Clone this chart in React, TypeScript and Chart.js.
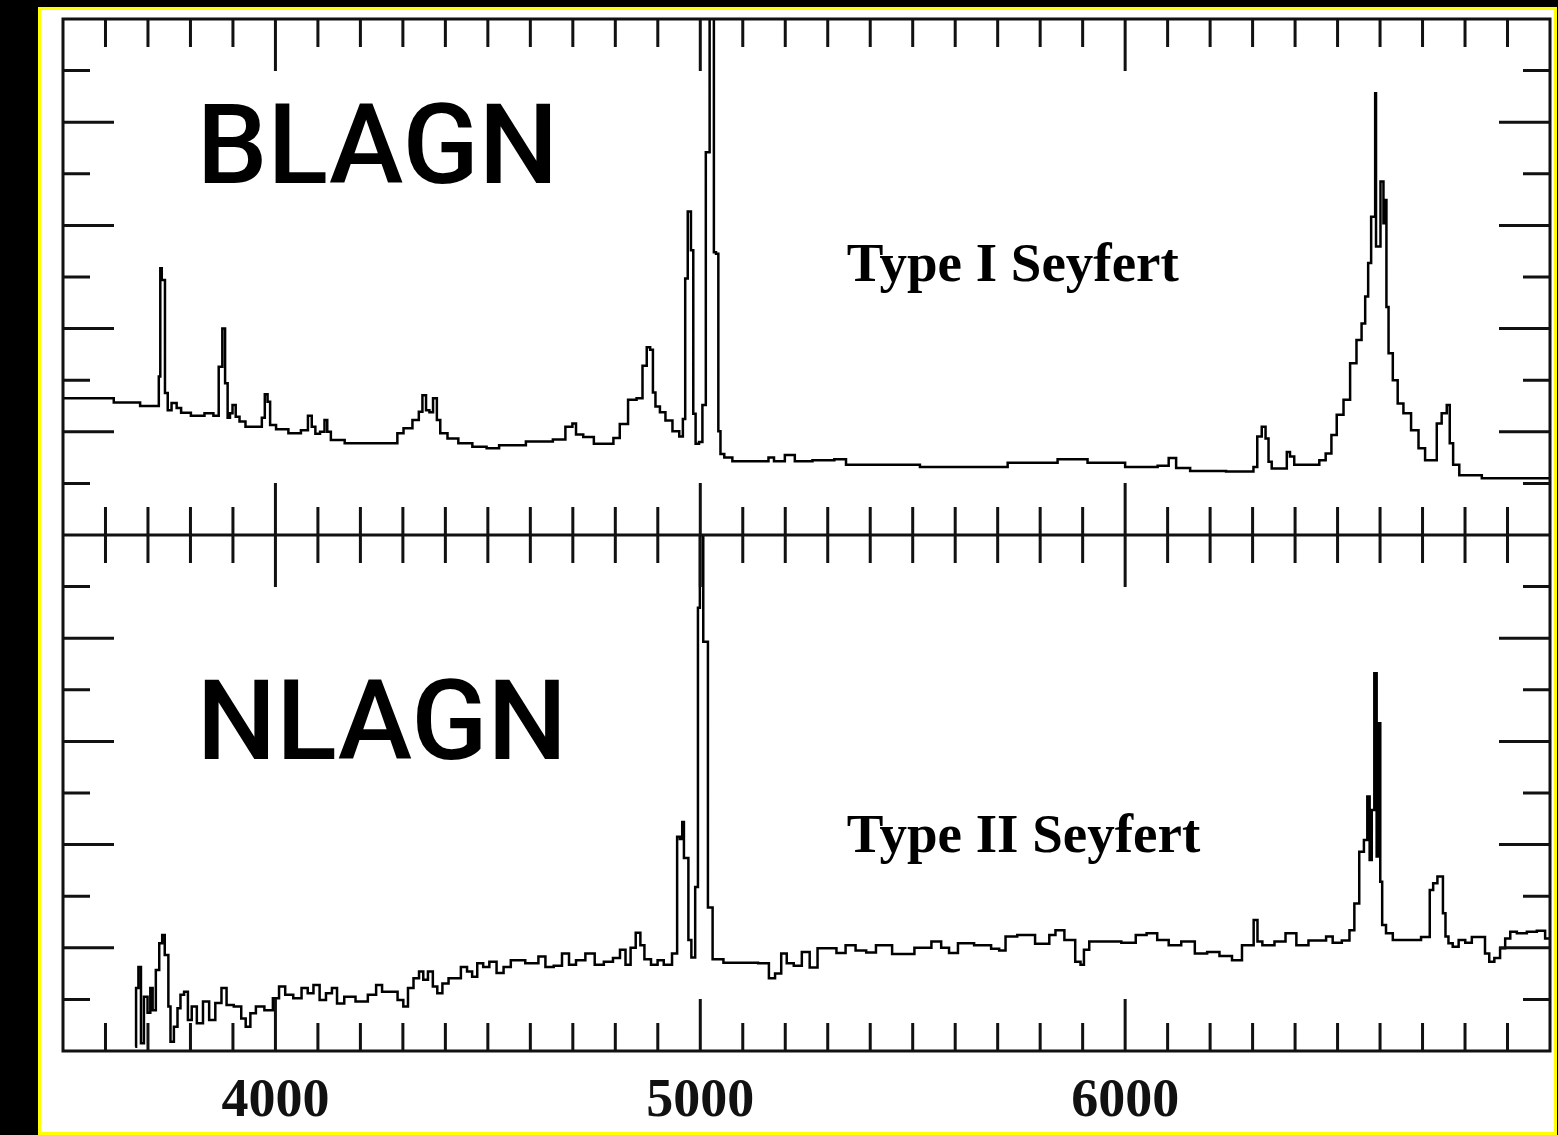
import React, { useEffect, useRef } from 'react';
import { Chart, registerables } from 'chart.js';

Chart.register(...registerables);

// ---------- data (wavelength in Angstrom, flux in panel tick units) ----------
const WAVE_MIN = 3500;
const WAVE_MAX = 7000;
const WAVE_STEP = 100;
const tickLabelValues = [4000, 5000, 6000];
const majorWaveTicks = [4000, 5000, 6000];
const PANEL_MIN = 0;
const PANEL_MAX = 10;

const blagnWave = [
  3500, 3619, 3620, 3681, 3682, 3724, 3727, 3731, 3734, 3737, 3743, 3750, 3761, 3774, 3782,
  3820, 3846, 3862, 3871, 3879, 3884, 3891, 3895, 3903, 3910, 3921, 3938, 3964, 3972, 3978,
  3985, 3990, 4013, 4048, 4072, 4081, 4090, 4098, 4112, 4119, 4125, 4136, 4190, 4283, 4291,
  4312, 4333, 4342, 4350, 4359, 4366, 4376, 4384, 4392, 4418, 4443, 4484, 4510, 4543, 4636,
  4670, 4695, 4703, 4712, 4737, 4762, 4788, 4803, 4818, 4842, 4858, 4870, 4878, 4886, 4891,
  4898, 4912, 4924, 4945, 4956, 4962, 4967, 4974, 4982, 4985, 4993, 5001, 5009, 5017, 5027,
  5031, 5033, 5041, 5044, 5051, 5062, 5089, 5157, 5164, 5183, 5215, 5230, 5298, 5333, 5353,
  5470, 5564, 5706, 5741, 5800, 5882, 5941, 6059, 6094, 6111, 6129, 6177, 6298, 6306, 6316,
  6327, 6334, 6341, 6349, 6377, 6384, 6392, 6404, 6451, 6463, 6481, 6490, 6506, 6522, 6537,
  6552, 6561, 6569, 6575, 6583, 6588, 6589, 6592, 6596, 6606, 6610, 6614, 6616, 6624, 6636,
  6647, 6663, 6683, 6698, 6714, 6730, 6737, 6753, 6761, 6767, 6777, 6796, 6883, 7000,
];
const blagnFlux = [
  2.65, 2.65, 2.57, 2.57, 2.5, 2.5, 3.07, 5.17, 4.94, 4.94, 2.75, 2.42, 2.56, 2.46, 2.37,
  2.31, 2.36, 2.31, 3.26, 4.0, 2.94, 2.27, 2.36, 2.52, 2.29, 2.2, 2.1, 2.1, 2.27, 2.73,
  2.58, 2.13, 2.05, 1.97, 2.03, 2.31, 2.1, 1.96, 2.0, 2.23, 2.0, 1.84, 1.78, 1.78, 1.97,
  2.07, 2.23, 2.39, 2.71, 2.42, 2.38, 2.65, 2.23, 1.97, 1.87, 1.78, 1.71, 1.68, 1.74, 1.81,
  1.85, 2.1, 2.16, 1.95, 1.9, 1.77, 1.77, 1.88, 2.15, 2.62, 2.65, 3.28, 3.64, 3.59, 2.76,
  2.49, 2.38, 2.22, 2.01, 1.91, 2.25, 4.97, 6.27, 5.52, 2.35, 1.77, 1.8, 2.52, 7.42, 12,
  12, 5.48, 5.45, 2.01, 1.57, 1.5, 1.43, 1.43, 1.5, 1.43, 1.55, 1.43, 1.45, 1.47, 1.36,
  1.36, 1.32, 1.32, 1.4, 1.4, 1.47, 1.4, 1.32, 1.34, 1.49, 1.3, 1.24, 1.23, 1.32, 1.91,
  2.1, 1.87, 1.42, 1.29, 1.29, 1.61, 1.52, 1.36, 1.36, 1.45, 1.58, 1.94, 2.33, 2.62, 3.33,
  3.78, 4.1, 4.62, 5.27, 6.17, 6.17, 8.56, 5.59, 5.59, 6.85, 6.04, 6.49, 4.42, 3.52, 3.0,
  2.55, 2.36, 2.03, 1.68, 1.45, 1.45, 2.16, 2.36, 2.52, 1.78, 1.36, 1.16, 1.1, 1.1,
];

const nlagnWave = [
  3670, 3674, 3681, 3686, 3695, 3703, 3708, 3714, 3723, 3730, 3737, 3742, 3746, 3750, 3756,
  3766, 3773, 3780, 3790, 3798, 3808, 3822, 3837, 3851, 3866, 3880, 3890, 3914, 3925, 3935,
  3947, 3961, 3987, 4001, 4016, 4030, 4054, 4069, 4083, 4096, 4112, 4126, 4140, 4150, 4174,
  4203, 4232, 4242, 4260, 4280, 4295, 4307, 4317, 4333, 4343, 4353, 4365, 4376, 4386, 4400,
  4415, 4429, 4444, 4458, 4468, 4482, 4496, 4511, 4530, 4544, 4564, 4612, 4626, 4645, 4665,
  4684, 4698, 4717, 4742, 4761, 4785, 4804, 4818, 4830, 4842, 4854, 4864, 4873, 4895, 4904,
  4924, 4943, 4948, 4956, 4959, 4964, 4970, 4974, 4984, 4992, 4997, 5001, 5005, 5009, 5017,
  5019, 5027, 5031, 5078, 5117, 5155, 5168, 5184, 5197, 5210, 5230, 5248, 5267, 5285, 5310,
  5331, 5353, 5378, 5403, 5424, 5479, 5529, 5559, 5575, 5596, 5617, 5672, 5697, 5710, 5727,
  5765, 5811, 5832, 5840, 5874, 5891, 5899, 5907, 5924, 5974, 6008, 6042, 6059, 6092, 6113,
  6151, 6177, 6209, 6235, 6268, 6282, 6298, 6307, 6316, 6330, 6373, 6382, 6424, 6439, 6467,
  6479, 6498, 6522, 6534, 6545, 6557, 6567, 6573, 6578, 6583, 6590, 6594, 6599, 6602, 6608,
  6620, 6640, 6679, 6714, 6720, 6730, 6740, 6745, 6751, 6757, 6765, 6777, 6793, 6808, 6824,
  6843, 6851, 6863, 6875, 6890, 6899, 6914, 6930, 6961, 6977, 7000,
];
const nlagnFlux = [
  0.08, 1.22, 1.63, 0.15, 1.05, 0.74, 1.22, 0.79, 1.57, 2.09, 2.25, 1.86, 1.86, 0.86, 0.18,
  0.47, 0.83, 1.09, 1.15, 0.6, 0.86, 0.54, 0.96, 0.6, 0.93, 1.22, 0.89, 0.86, 0.63, 0.47,
  0.73, 0.86, 0.79, 1.02, 1.25, 1.09, 1.02, 1.22, 1.12, 1.28, 0.99, 1.12, 1.22, 0.92, 1.05,
  0.96, 1.09, 1.28, 1.15, 1.15, 0.99, 0.86, 1.22, 1.41, 1.54, 1.38, 1.54, 1.25, 1.12, 1.31,
  1.41, 1.41, 1.63, 1.54, 1.44, 1.7, 1.63, 1.73, 1.51, 1.63, 1.76, 1.7, 1.83, 1.63, 1.65,
  1.89, 1.67, 1.76, 1.89, 1.67, 1.73, 1.8, 1.96, 1.67, 2.0, 2.29, 2.05, 1.78, 1.67, 1.76,
  1.67, 1.89, 4.15, 4.11, 4.44, 3.74, 3.74, 2.15, 1.81, 3.18, 8.59, 10, 10, 7.93, 7.93,
  2.78, 2.78, 1.78, 1.71, 1.71, 1.7, 1.41, 1.5, 1.89, 1.7, 1.65, 1.92, 1.62, 1.99, 1.99,
  1.9, 2.05, 1.95, 1.91, 2.05, 1.88, 2.0, 2.12, 2.0, 1.9, 2.09, 2.05, 1.98, 1.95, 2.22,
  2.25, 2.08, 2.25, 2.34, 2.15, 1.73, 1.67, 1.96, 2.12, 2.12, 2.1, 2.25, 2.28, 2.15, 2.05,
  2.12, 1.89, 1.92, 1.84, 1.76, 2.05, 2.05, 2.54, 2.12, 2.05, 2.12, 2.28, 2.05, 2.14, 2.14,
  2.22, 2.1, 2.14, 2.34, 2.86, 3.86, 4.09, 4.93, 3.7, 4.67, 7.32, 3.77, 6.35, 3.28, 2.44,
  2.28, 2.15, 2.15, 2.21, 3.12, 3.25, 3.38, 3.38, 2.67, 2.22, 2.09, 2.02, 2.15, 2.1, 2.21,
  2.21, 1.89, 1.73, 1.8, 1.99, 2.18, 2.31, 2.28, 2.31, 2.33, 2.18,
];

const panelNames = ['BLAGN', 'NLAGN'];
const seyfertNames = ['Type I Seyfert', 'Type II Seyfert'];

// annotation anchors (wavelength, panel units of the text baseline)
const panelNameAnchors = [
  { wave: 3815, level: 6.82 },
  { wave: 3815, level: 5.66 },
];
const seyfertAnchors = [
  { wave: 5345, level: 4.92 },
  { wave: 5345, level: 3.86 },
];

const toPoints = (w: number[], f: number[]) => w.map((x, i) => ({ x, y: f[i] }));

const frameTicksPlugin = {
  id: 'frameTicks',
  afterDatasetsDraw(chart: any) {
    const { ctx, chartArea } = chart;
    const x = chart.scales.x;
    const panels = [chart.scales.yTop, chart.scales.yBot];
    ctx.save();
    ctx.strokeStyle = '#111';
    ctx.lineWidth = 3;
    ctx.lineCap = 'butt';
    ctx.beginPath();
    panels.forEach((p: any) => {
      ctx.rect(chartArea.left, p.top, chartArea.right - chartArea.left, p.bottom - p.top);
      x.ticks.forEach((t: any) => {
        const v = Math.round(t.value);
        if (v <= x.min || v >= x.max) return;
        const px = x.getPixelForValue(v);
        const len = majorWaveTicks.includes(v) ? 52 : 28;
        ctx.moveTo(px, p.top);
        ctx.lineTo(px, p.top + len);
        ctx.moveTo(px, p.bottom);
        ctx.lineTo(px, p.bottom - len);
      });
      p.ticks.forEach((t: any) => {
        const v = Math.round(t.value);
        if (v <= p.min || v >= p.max) return;
        const py = p.getPixelForValue(v);
        const len = v % 2 === 0 ? 51 : 27;
        ctx.moveTo(chartArea.left, py);
        ctx.lineTo(chartArea.left + len, py);
        ctx.moveTo(chartArea.right, py);
        ctx.lineTo(chartArea.right - len, py);
      });
    });
    ctx.stroke();
    ctx.restore();
  },
};

const textPlugin = {
  id: 'panelText',
  afterDatasetsDraw(chart: any) {
    const { ctx } = chart;
    const x = chart.scales.x;
    const panels = [chart.scales.yTop, chart.scales.yBot];
    ctx.save();
    ctx.fillStyle = '#000';
    ctx.textAlign = 'left';
    ctx.textBaseline = 'alphabetic';
    panels.forEach((p: any, i: number) => {
      ctx.font = '500 112px Roboto, "Liberation Sans", sans-serif';
      ctx.fillText(panelNames[i], x.getPixelForValue(panelNameAnchors[i].wave), p.getPixelForValue(panelNameAnchors[i].level));
      ctx.font = 'bold 55px "Liberation Serif", "DejaVu Serif", serif';
      ctx.fillText(seyfertNames[i], x.getPixelForValue(seyfertAnchors[i].wave), p.getPixelForValue(seyfertAnchors[i].level));
    });
    ctx.restore();
  },
};

// left boxes are laid out in reverse weight order: higher weight is placed on top of the stack
const hiddenY = (weight: number) => ({
  type: 'linear' as const,
  position: 'left' as const,
  stack: 'panels',
  stackWeight: 1,
  weight,
  min: PANEL_MIN,
  max: PANEL_MAX,
  ticks: { display: false, stepSize: 1 },
  grid: { display: false, drawTicks: false },
  border: { display: false },
});

const spectrumStyle = {
  borderColor: '#000',
  borderWidth: 2.5,
  pointRadius: 0,
  tension: 0,
  fill: false,
  stepped: 'middle' as const,
};

export default function App() {
  const canvasRef = useRef<HTMLCanvasElement | null>(null);

  useEffect(() => {
    const canvas = canvasRef.current;
    if (!canvas) return;
    const chart = new Chart(canvas, {
      type: 'line',
      data: {
        datasets: [
          {
            label: 'BLAGN',
            data: toPoints(blagnWave, blagnFlux),
            xAxisID: 'x',
            yAxisID: 'yTop',
            ...spectrumStyle,
          },
          {
            label: 'NLAGN',
            data: toPoints(nlagnWave, nlagnFlux),
            xAxisID: 'x',
            yAxisID: 'yBot',
            ...spectrumStyle,
          },
        ],
      },
      options: {
        responsive: false,
        animation: false,
        devicePixelRatio: 1,
        events: [],
        layout: { padding: { left: 63, right: 8, top: 19, bottom: 0 } },
        plugins: { legend: { display: false }, tooltip: { enabled: false } },
        scales: {
          x: {
            type: 'linear',
            position: 'bottom',
            min: WAVE_MIN,
            max: WAVE_MAX,
            grid: { display: false, drawTicks: false },
            border: { display: false },
            afterFit: (s: any) => {
              s.height = 84;
            },
            ticks: {
              stepSize: WAVE_STEP,
              autoSkip: false,
              maxRotation: 0,
              minRotation: 0,
              padding: 0,
              color: '#111',
              font: { family: '"Liberation Serif", "DejaVu Serif", serif', size: 54, weight: 'bold', lineHeight: 1.9 },
              callback: (v: any) => (tickLabelValues.includes(Math.round(Number(v))) ? String(Math.round(Number(v))) : ''),
            },
          },
          yTop: hiddenY(1),
          yBot: hiddenY(0),
        },
      } as any,
      plugins: [frameTicksPlugin, textPlugin],
    });
    return () => chart.destroy();
  }, []);

  return (
    <div style={{ position: 'fixed', left: 0, top: 0, width: 1558, height: 1135, background: '#000', overflow: 'hidden' }}>
      <div
        style={{
          position: 'absolute',
          left: 38,
          top: 7,
          width: 1519,
          height: 1128,
          boxSizing: 'border-box',
          border: '3px solid #ffff00',
          background: '#fff',
        }}
      />
      <canvas ref={canvasRef} width={1558} height={1135} style={{ position: 'absolute', left: 0, top: 0, width: 1558, height: 1135 }} />
    </div>
  );
}
